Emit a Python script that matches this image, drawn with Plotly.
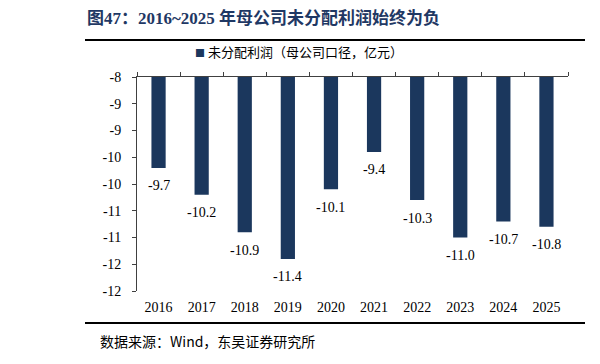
import plotly.graph_objects as go

YEARS = ["2016", "2017", "2018", "2019", "2020", "2021", "2022", "2023", "2024", "2025"]
VALUES = [-9.7, -10.2, -10.9, -11.4, -10.1, -9.4, -10.3, -11.0, -10.7, -10.8]
BASE = -8
Y_TICK_VALS = [-8, -8.5, -9, -9.5, -10, -10.5, -11, -11.5, -12]
Y_TICK_LABELS = ["-8", "-9", "-9", "-10", "-10", "-11", "-11", "-12", "-12"]
SERIES_NAME = "未分配利润（母公司口径，亿元）"
TITLE = "图47：2016~2025 年母公司未分配利润始终为负"
SOURCE = "数据来源：Wind，东吴证券研究所"

BAR_COLOR = "#1B375D"
AXIS_COLOR = "#404040"
SERIF = "Liberation Serif, Times New Roman, Noto Sans CJK SC"
CJK = "Noto Sans CJK SC, Liberation Serif"

W, H = 600, 364
L, R, T, B = 137, 32, 77, 73
PW = W - L - R
PH = H - T - B


def px_x(px):
    return (px - L) / PW


def px_y(py):
    return 1 - (py - T) / PH


fig = go.Figure()
fig.add_trace(go.Bar(
    x=YEARS,
    y=[v - BASE for v in VALUES],
    base=BASE,
    name=SERIES_NAME,
    marker=dict(color=BAR_COLOR, line=dict(width=0)),
    width=0.33,
    showlegend=False,
    hoverinfo="skip",
))
# invisible trace on the top axis (category axis crossing at -8)
fig.add_trace(go.Scatter(
    x=YEARS, y=[BASE] * len(YEARS), xaxis="x2", yaxis="y",
    mode="markers", marker=dict(opacity=0), showlegend=False, hoverinfo="skip",
))

annotations = []
for i, v in enumerate(VALUES):
    annotations.append(dict(
        x=i, y=v, xref="x", yref="y", text=f"{v:.1f}", showarrow=False,
        yshift=-18, font=dict(family=SERIF, size=14, color="#000000"),
    ))
annotations.append(dict(
    x=px_x(85), y=px_y(18), xref="paper", yref="paper", xanchor="left", yanchor="middle",
    text=f"<b>{TITLE}</b>", showarrow=False,
    font=dict(family=SERIF, size=17, color="#1F3864"),
))
annotations.append(dict(
    x=px_x(98), y=px_y(341), xref="paper", yref="paper", xanchor="left", yanchor="middle",
    text=SOURCE, showarrow=False,
    font=dict(family=CJK, size=14, color="#000000"),
))
# legend
annotations.append(dict(
    x=px_x(193), y=px_y(52), xref="paper", yref="paper", xanchor="left", yanchor="middle",
    text=f"<span style='color:{BAR_COLOR};font-size:10px'>■</span> {SERIES_NAME}",
    showarrow=False,
    font=dict(family=CJK, size=13, color="#000000"),
))

shapes = [
    dict(type="line", xref="paper", yref="paper", x0=px_x(85), x1=px_x(585),
         y0=px_y(40), y1=px_y(40), line=dict(color="#000000", width=2)),
    dict(type="line", xref="paper", yref="paper", x0=px_x(85), x1=px_x(585),
         y0=px_y(323), y1=px_y(323), line=dict(color="#000000", width=2)),
]

fig.update_layout(
    width=W, height=H,
    margin=dict(l=L, r=R, t=T, b=B, pad=0),
    paper_bgcolor="white", plot_bgcolor="white",
    bargap=0.67,
    showlegend=False,
    xaxis=dict(
        type="category", categoryorder="array", categoryarray=YEARS,
        range=[-0.5, len(YEARS) - 0.5],
        showline=False, ticks="", showgrid=False, zeroline=False,
        tickfont=dict(family=SERIF, size=14, color="#000000"),
        ticklabelstandoff=6,
    ),
    xaxis2=dict(
        type="category", categoryorder="array", categoryarray=YEARS,
        range=[-0.5, len(YEARS) - 0.5],
        overlaying="x", side="top", anchor="y",
        showline=True, linecolor=AXIS_COLOR, linewidth=1,
        ticks="outside", ticklen=4, tickcolor=AXIS_COLOR, tickson="boundaries",
        showticklabels=False, showgrid=False, zeroline=False,
    ),
    yaxis=dict(
        range=[-12, -8], tickvals=Y_TICK_VALS, ticktext=Y_TICK_LABELS,
        showline=True, linecolor=AXIS_COLOR, linewidth=1,
        ticks="outside", ticklen=4, tickcolor=AXIS_COLOR,
        showgrid=False, zeroline=False,
        tickfont=dict(family=SERIF, size=14, color="#000000"),
        ticklabelstandoff=8,
    ),
    annotations=annotations,
    shapes=shapes,
)

fig.write_html("out.html")
